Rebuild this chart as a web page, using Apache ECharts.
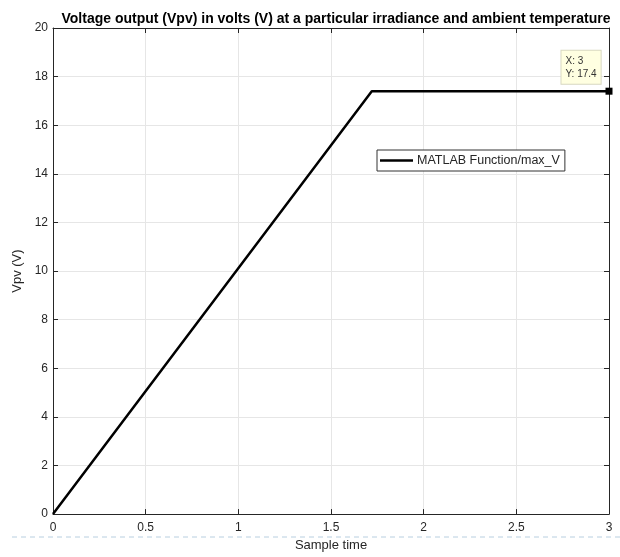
<!DOCTYPE html>
<html><head><meta charset="utf-8">
<script src="https://cdn.jsdelivr.net/npm/echarts@6/dist/echarts.min.js"></script>
<style>html,body{margin:0;padding:0;background:#fff}#c{width:620px;height:557px}</style>
</head><body><div id="c"></div>
<script>
const seriesName = 'MATLAB Function/max_V';
const sampleTime = [0, 1.72, 3];
const vpv = [0, 17.4, 17.4];
const xTicks = ['0', '0.5', '1', '1.5', '2', '2.5', '3'];
const tipPoint = [3, 17.4];

const font = 'Liberation Sans, Arial, sans-serif';
const tc = '#262626';
const chart = echarts.init(document.getElementById('c'));
const axisCommon = {
  axisLine: {show: true, onZero: false, lineStyle: {color: tc, width: 1}},
  axisTick: {show: true, inside: true, length: 5, lineStyle: {color: tc}},
  axisLabel: {color: tc, fontFamily: font, fontSize: 12}
};
chart.setOption({
  animation: false,
  title: {text: 'Voltage output (Vpv) in volts (V) at a particular irradiance and ambient temperature',
    left: 331, textAlign: 'center', top: 7,
    textStyle: {fontFamily: font, fontSize: 14, fontWeight: 'bold', color: '#000'}},
  grid: {left: 53, right: 11, top: 28, bottom: 40},
  legend: {data: [seriesName], left: 377, top: 150, orient: 'vertical',
    borderColor: '#333', borderWidth: 1, borderRadius: 0, padding: [4, 5, 4, 3],
    backgroundColor: '#fff', itemWidth: 33, itemHeight: 2.5, itemGap: 0,
    icon: 'rect',
    textStyle: {fontFamily: font, fontSize: 12.5, color: tc, padding: [0, 0, 0, -1]}},
  xAxis: [
    Object.assign({}, axisCommon, {type: 'value', min: 0, max: 3, interval: 0.5,
      name: 'Sample time', nameLocation: 'middle', nameGap: 24,
      nameTextStyle: {fontFamily: font, fontSize: 13, color: tc},
      axisLabel: {color: tc, fontFamily: font, fontSize: 12, margin: 8,
        formatter: v => xTicks[Math.round(v / 0.5)]},
      splitLine: {show: true, lineStyle: {color: '#e6e6e6', width: 1}}}),
    Object.assign({}, axisCommon, {type: 'value', min: 0, max: 3, interval: 0.5, position: 'top',
      axisLabel: {show: false}, splitLine: {show: false}})
  ],
  yAxis: [
    Object.assign({}, axisCommon, {type: 'value', min: 0, max: 20, interval: 2,
      name: 'Vpv (V)', nameLocation: 'middle', nameGap: 27,
      nameTextStyle: {fontFamily: font, fontSize: 13, color: tc},
      axisLabel: {color: tc, fontFamily: font, fontSize: 12, margin: 5},
      splitLine: {show: true, lineStyle: {color: '#e6e6e6', width: 1}}}),
    Object.assign({}, axisCommon, {type: 'value', min: 0, max: 20, interval: 2, position: 'right',
      axisLabel: {show: false}, splitLine: {show: false}})
  ],
  series: [{
    name: seriesName, type: 'line', xAxisIndex: 0, yAxisIndex: 0,
    data: sampleTime.map((t, i) => [t, vpv[i]]),
    showSymbol: false, symbol: 'none',
    lineStyle: {color: '#000', width: 2.5},
    itemStyle: {color: '#000'},
    markPoint: {
      symbol: 'rect', symbolSize: 7,
      itemStyle: {color: '#000'},
      data: [{coord: tipPoint}],
      label: {show: true, position: [-44, -37],
        formatter: () => 'X: ' + tipPoint[0] + '\nY: ' + tipPoint[1],
        backgroundColor: '#ffffe1', borderColor: '#d8d8c0', borderWidth: 1,
        padding: [4, 4, 3, 4], color: '#333', fontFamily: font, fontSize: 10, lineHeight: 13}
    }
  }],
  graphic: [{type: 'line', shape: {x1: 12, y1: 537, x2: 620, y2: 537},
    style: {stroke: '#b8cfe0', lineWidth: 1, lineDash: [5, 4]}}]
});
</script></body></html>
